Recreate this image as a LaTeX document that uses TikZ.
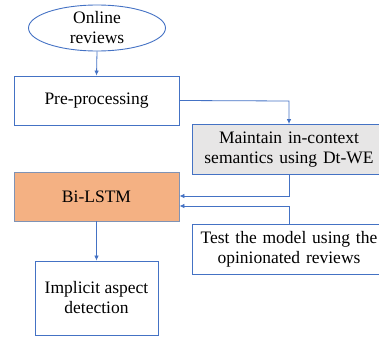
\documentclass[tikz,border=0pt]{standalone}
\usepackage{fontspec}
\setmainfont{Liberation Serif}
\usetikzlibrary{arrows.meta,shapes.geometric}
\definecolor{bord}{HTML}{4472C4}
\definecolor{orangefill}{HTML}{F4B183}
\definecolor{grayfill}{HTML}{E7E6E6}
\definecolor{bilstmbord}{HTML}{7F93B5}
\tikzset{
  box/.style={draw=bord, line width=0.9pt, align=center, inner sep=0pt,
    font=\fontsize{17.5}{20}\selectfont},
  conn/.style={draw=bord, line width=0.8pt, -{Latex[length=5pt,width=4.5pt]}},
}
\begin{document}
\begin{tikzpicture}[x=1pt,y=-1pt]
\useasboundingbox (0,0) rectangle (379,337);
\begin{scope}
\clip (0,0) rectangle (379,337);
\node[box, ellipse, minimum width=137pt, minimum height=46pt] (online) at (97,28) {Online\\reviews};
\node[box, minimum width=165pt, minimum height=49pt] (pre) at (96.5,100.5) {Pre-processing};
\node[box, fill=grayfill, minimum width=194pt, minimum height=50pt, text width=186pt] (dtwe) at (289,149.5) {Maintain in-context\\semantics using Dt-WE};
\node[box, draw=bilstmbord, fill=orangefill, minimum width=165pt, minimum height=49pt] (bilstm) at (96.5,196.5) {Bi-LSTM};
\node[box, minimum width=194pt, minimum height=50pt, text width=186pt] (test) at (289,249) {Test the model using the\\opinionated reviews};
\node[box, minimum width=123pt, minimum height=74pt] (impl) at (96.5,298) {Implicit aspect\\detection};
\end{scope}
\coordinate (c0) at (289,101);
\coordinate (c1) at (289,196);
\coordinate (c2) at (289,206);
\draw[conn] (pre.east) -- (c0) -- (c0 |- dtwe.north);
\draw[conn] (c1 |- dtwe.south) -- (c1) -- (c1 -| bilstm.east);
\draw[conn] (c2 |- test.north) -- (c2) -- (c2 -| bilstm.east);
\draw[conn] (online.south) -- (pre.north);
\draw[conn] (bilstm.south) -- (impl.north);
\end{tikzpicture}
\end{document}
